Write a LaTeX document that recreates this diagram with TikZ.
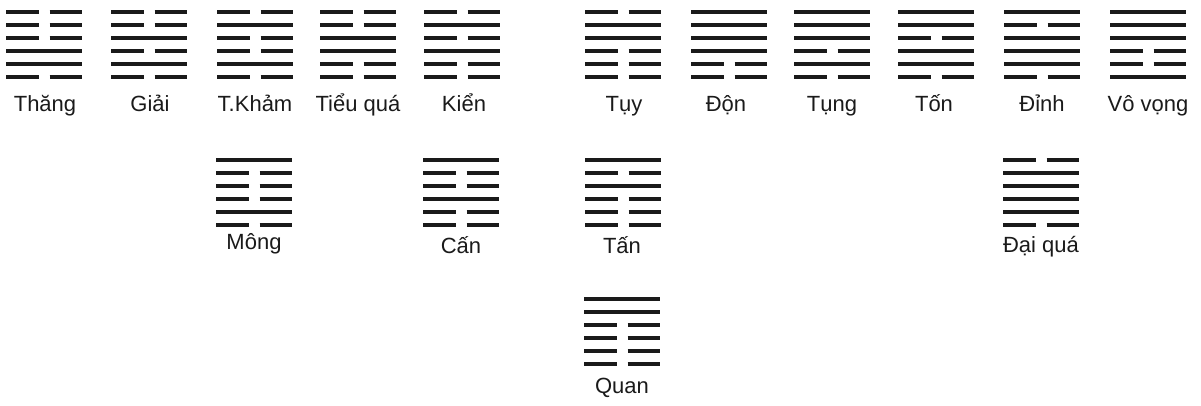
\documentclass[tikz,border=0pt]{standalone}
\usepackage{fontspec}
\setmainfont{Liberation Sans}
\definecolor{yaoink}{HTML}{1A1A1A}

\begin{document}
\begin{tikzpicture}[x=1pt,y=-1pt,
 yao/.style={yaoink,line width=4.6pt},
 lbl/.style={anchor=base,inner sep=0pt,yaoink,font=\fontsize{22}{24}\selectfont}]
\useasboundingbox (0,0) rectangle (1201,405);
% hexagrams: centre x, top line y, lines from top (1 = solid, 0 = broken)
\foreach \cx/\cy/\bits in {44/12/{0,0,0,1,1,0},149/12/{0,0,1,0,1,0},255/12/{0,1,0,0,1,0},
 358/12/{0,0,1,1,0,0},462/12/{0,1,0,1,0,0},623/12/{0,1,1,0,0,0},729/12/{1,1,1,1,0,0},
 832/12/{1,1,1,0,1,0},936/12/{1,1,0,1,1,0},1042/12/{1,0,1,1,1,0},1148/12/{1,1,1,0,0,1},
 254/160/{1,0,0,0,1,0},461/160/{1,0,0,1,0,0},623/160/{1,0,1,0,0,0},1041/160/{0,1,1,1,1,0},
 622/299/{1,1,0,0,0,0}}{
  \foreach \b [count=\i from 0] in \bits{
    \ifnum\b=1
      \draw[yao] (\cx-38,\cy+13*\i) -- (\cx+38,\cy+13*\i);
    \else
      \draw[yao] (\cx-38,\cy+13*\i) -- (\cx-5.5,\cy+13*\i) (\cx+5.5,\cy+13*\i) -- (\cx+38,\cy+13*\i);
    \fi
  }
}
% names
\node[lbl] (thang) at (45,111) {Thăng};
\node[lbl] (giai) at (150,111) {Giải};
\node[lbl] (tkham) at (255,111) {T.Khảm};
\node[lbl] (tieuqua) at (358,111) {Tiểu quá};
\node[lbl] (kien) at (464,111) {Kiển};
\node[lbl] (tuy) at (624,111) {Tụy};
\node[lbl] (don) at (726,111) {Độn};
\node[lbl] (tung) at (832,111) {Tụng};
\node[lbl] (ton) at (934,111) {Tốn};
\node[lbl] (dinh) at (1042,111) {Đỉnh};
\node[lbl] (vovong) at (1148,111) {Vô vọng};
\node[lbl] (mong) at (254,249) {Mông};
\node[lbl] (can) at (461,253) {Cấn};
\node[lbl] (tan) at (622,253) {Tấn};
\node[lbl] (daiqua) at (1041,252) {Đại quá};
\node[lbl] (quan) at (622,393) {Quan};
\end{tikzpicture}
\end{document}
